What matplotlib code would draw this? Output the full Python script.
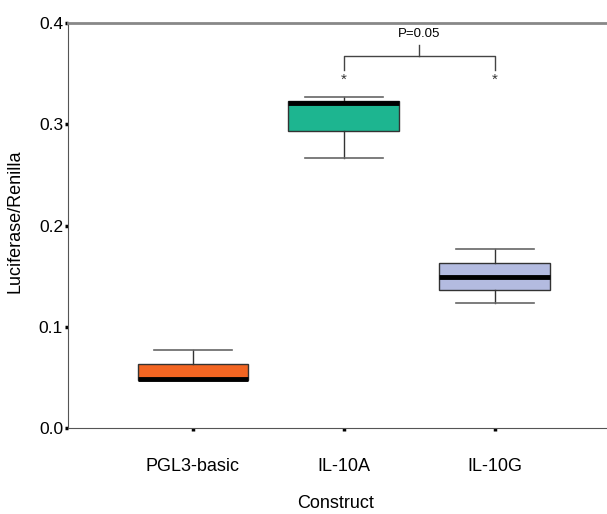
import matplotlib
matplotlib.use("Agg")
import matplotlib.pyplot as plt

plt.rcParams.update({"font.family": "sans-serif", "font.sans-serif": ["Liberation Sans", "DejaVu Sans"], "font.size": 10})

constructs = ["PGL3-basic", "IL-10A", "IL-10G"]
whislo = [0.048, 0.267, 0.124]
q1 = [0.048, 0.293, 0.136]
med = [0.049, 0.321, 0.149]
q3 = [0.063, 0.323, 0.163]
whishi = [0.077, 0.327, 0.177]
colors = ["#F26522", "#1DB590", "#B3BBE0"]
p_text = "P=0.05"

stats = [dict(label=c, whislo=a, q1=b, med=m, q3=d, whishi=e, fliers=[])
         for c, a, b, m, d, e in zip(constructs, whislo, q1, med, q3, whishi)]

fig = plt.figure(figsize=(6.07, 5.14), dpi=100)
ax = fig.add_axes([0.112, 0.167, 0.888, 0.788])
pos = [1, 2, 3]
bp = ax.bxp(stats, positions=pos, widths=0.735, patch_artist=True, showfliers=False,
            boxprops=dict(edgecolor="#333333", linewidth=1.0),
            medianprops=dict(color="black", linewidth=3.5, solid_capstyle="butt"),
            whiskerprops=dict(color="#333333", linewidth=1.0),
            capprops=dict(color="#666666", linewidth=1.2), capwidths=0.52)
for patch, c in zip(bp["boxes"], colors):
    patch.set_facecolor(c)

ax.set_xlim(0.172, 3.742)
ax.set_ylim(0.0, 0.4)
ax.set_yticks([0.0, 0.1, 0.2, 0.3, 0.4])
ax.set_yticklabels(["0.0", "0.1", "0.2", "0.3", "0.4"], fontsize=12.5)
ax.set_xticks(pos)
ax.set_xticklabels(constructs, fontsize=13)
ax.tick_params(axis="both", length=2.5, width=2.5, color="black", direction="out")
ax.tick_params(axis="x", pad=19)
ax.tick_params(axis="y", pad=1)
ax.set_xlabel("Construct", fontsize=13, va="center")
ax.set_ylabel("Luciferase/Renilla", fontsize=13, va="center")
ax.xaxis.set_label_coords(0.497, -0.187)
ax.yaxis.set_label_coords(-0.098, 0.51)

ax.spines["right"].set_visible(False)
ax.spines["left"].set_color("#555555")
ax.spines["bottom"].set_color("#555555")
ax.spines["top"].set_color("#888888")
ax.spines["top"].set_linewidth(2)

# significance bracket
ax.plot([2, 2, 3, 3], [0.354, 0.368, 0.368, 0.354], color="#444444", lw=1.0)
ax.plot([2.5, 2.5], [0.368, 0.378], color="#444444", lw=1.0)
ax.text(2.5, 0.383, p_text, ha="center", va="bottom", fontsize=9.5)
ax.text(2, 0.344, "*", ha="center", va="center", fontsize=11, color="#333333")
ax.text(3, 0.344, "*", ha="center", va="center", fontsize=11, color="#333333")

fig.savefig("out.png", dpi=100)
